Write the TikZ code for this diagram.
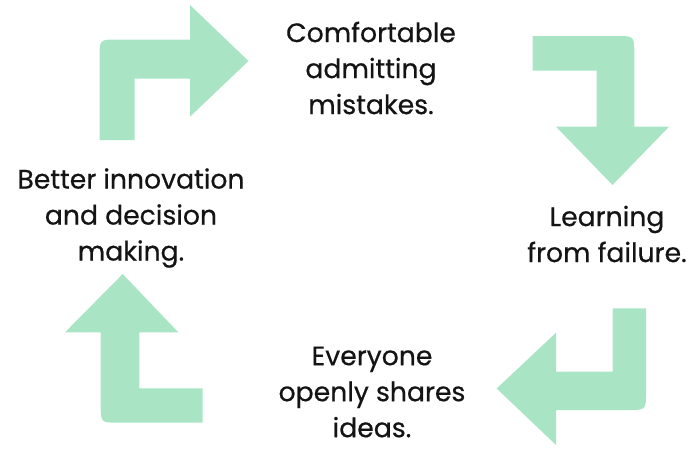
\documentclass[tikz,border=0pt]{standalone}
\usepackage{fontspec}
\setmainfont{Poppins}
\newfontfamily\stagefont{Poppins}[FakeBold=0.5]
\definecolor{arrowgreen}{HTML}{A9E5C5}
\definecolor{inkblack}{HTML}{141414}
\begin{document}
\begin{tikzpicture}[x=0.75pt,y=-0.75pt,
  bent/.style={fill=arrowgreen,draw=none},
  label/.style={align=center,inner sep=0pt,text=inkblack,
    font=\stagefont\fontsize{20}{27}\selectfont}]
\useasboundingbox (0,0) rectangle (695,450);
\def\r{18}
% top-left: up, then right
\fill[bent] (99.5,140) -- (99.5,39.5+\r) .. controls (99.5,39.5) .. (99.5+\r,39.5)
  -- (190,39.5) -- (190,5) -- (248.5,61) -- (190,116.7) -- (190,78.5)
  -- (134.5,78.5) -- (134.5,140) -- cycle;
% top-right: right, then down
\fill[bent] (532.7,36) -- (634.3-\r,36) .. controls (634.3,36) .. (634.3,36+\r)
  -- (634.3,126.7) -- (669,126.7) -- (612.5,185) -- (556,126.7)
  -- (596.7,126.7) -- (596.7,70.7) -- (532.7,70.7) -- cycle;
% bottom-right: down, then left
\fill[bent] (612.7,308.3) -- (646,308.3) -- (646,410-\r) .. controls (646,410) .. (646-\r,410)
  -- (556,410) -- (556,445) -- (496.7,388.5) -- (556,332.7)
  -- (556,371.7) -- (612.7,371.7) -- cycle;
% bottom-left: left, then up
\fill[bent] (122.7,274) -- (178.3,332.3) -- (139.3,332.3) -- (139.3,388.3)
  -- (202.7,388.3) -- (202.7,422.7) -- (100.7+\r,422.7) .. controls (100.7,422.7) .. (100.7,422.7-\r)
  -- (100.7,332.3) -- (65,332.3) -- cycle;
% the four stages
\node[label] (admit) at (371,68) {Comfortable\\admitting\\mistakes.};
\node[label] (learn) at (607,234) {Learning\\from failure.};
\node[label] (share) at (372,392) {Everyone\\openly shares\\ideas.};
\node[label] (innov) at (131,218) {Better innovation\\and decision\\making.};
\end{tikzpicture}
\end{document}
